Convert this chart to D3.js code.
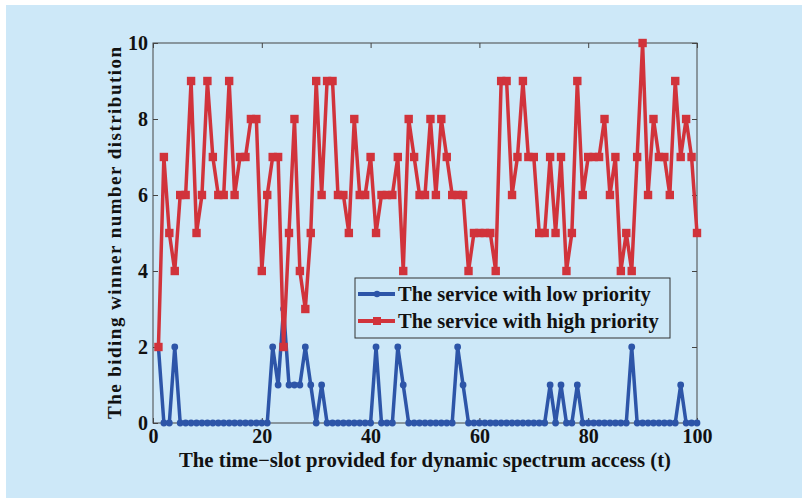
<!DOCTYPE html>
<html>
<head>
<meta charset="utf-8">
<script src="https://d3js.org/d3.v7.min.js"></script>
<style>
  body { margin: 0; background: #fff; }
  svg text { font-family: "Liberation Serif", "Times New Roman", serif; font-weight: bold; fill: #111; }
</style>
</head>
<body>
<div id="chart"></div>
<script>
var width = 802, height = 498;
var margin = { top: 43, left: 153, right: 105, bottom: 75 };

// time slots 1..100
var slots = d3.range(1, 101);

var lowPriority = [2,0,0,2,0,0,0,0,0,0, 0,0,0,0,0,0,0,0,0,0,
  0,2,1,3,1,1,1,2,1,0, 1,0,0,0,0,0,0,0,0,0,
  2,0,0,0,2,1,0,0,0,0, 0,0,0,0,0,2,1,0,0,0,
  0,0,0,0,0,0,0,0,0,0, 0,0,1,0,1,0,0,1,0,0,
  0,0,0,0,0,0,0,2,0,0, 0,0,0,0,0,0,1,0,0,0];

var highPriority = [2,7,5,4,6,6,9,5,6,9, 7,6,6,9,6,7,7,8,8,4,
  6,7,7,2,5,8,4,3,5,9, 6,9,9,6,6,5,8,6,6,7,
  5,6,6,6,7,4,8,7,6,6, 8,6,8,7,6,6,6,4,5,5,
  5,5,4,9,9,6,7,9,7,7, 5,5,7,5,7,4,5,9,6,7,
  7,7,8,6,7,4,5,4,7,10, 6,8,7,7,6,9,7,8,7,5];

var xTicks = [0, 20, 40, 60, 80, 100];
var yTicks = [0, 2, 4, 6, 8, 10];
var legendLabels = ["The service with low priority", "The service with high priority"];

var blue = "#2d55a8", red = "#d1333b";

var svg = d3.select("#chart").append("svg")
  .attr("width", width)
  .attr("height", height);

// light blue panel with a thin white edge top/left
svg.append("rect").attr("x", 6).attr("y", 5).attr("width", width - 6).attr("height", height - 5)
  .attr("fill", "#cde8f8");

var innerW = width - margin.left - margin.right,
    innerH = height - margin.top - margin.bottom;

var g = svg.append("g").attr("transform", "translate(" + margin.left + "," + margin.top + ")");

var x = d3.scaleLinear().domain([0, 100]).range([0, innerW]);
var y = d3.scaleLinear().domain([0, 10]).range([innerH, 0]);

// box
g.append("rect").attr("width", innerW).attr("height", innerH)
  .attr("fill", "none").attr("stroke", "#444").attr("stroke-width", 1);

// axes, ticks inside, mirrored
var xAxis = g.append("g").attr("transform", "translate(0," + innerH + ")")
  .call(d3.axisBottom(x).tickValues(xTicks).tickSize(-5).tickPadding(9));
var yAxis = g.append("g")
  .call(d3.axisLeft(y).tickValues(yTicks).tickSize(-5).tickPadding(5));
g.append("g").call(d3.axisTop(x).tickValues(xTicks).tickSize(-5).tickFormat(""));
g.append("g").attr("transform", "translate(" + innerW + ",0)")
  .call(d3.axisRight(y).tickValues(yTicks).tickSize(-5).tickFormat(""));

g.selectAll(".domain").remove();
g.selectAll(".tick line").attr("stroke", "#444");
xAxis.selectAll("text").attr("font-size", 20).attr("dy", "0.55em");
yAxis.selectAll("text").attr("font-size", 20);

// lines
var line = d3.line()
  .x(function(d, i) { return x(slots[i]); })
  .y(function(d) { return y(d); });

g.append("path").datum(lowPriority)
  .attr("d", line).attr("fill", "none").attr("stroke", blue).attr("stroke-width", 3.5)
  .attr("stroke-linejoin", "round");
g.selectAll(".lowpt").data(lowPriority).enter().append("circle")
  .attr("class", "lowpt")
  .attr("cx", function(d, i) { return x(slots[i]); })
  .attr("cy", function(d) { return y(d); })
  .attr("r", 3.4).attr("fill", blue);

g.append("path").datum(highPriority)
  .attr("d", line).attr("fill", "none").attr("stroke", red).attr("stroke-width", 3.5)
  .attr("stroke-linejoin", "miter");
g.selectAll(".highpt").data(highPriority).enter().append("rect")
  .attr("class", "highpt")
  .attr("x", function(d, i) { return x(slots[i]) - 4.2; })
  .attr("y", function(d) { return y(d) - 4.2; })
  .attr("width", 8.4).attr("height", 8.4).attr("fill", red);

// legend
var lg = svg.append("g").attr("transform", "translate(355,278)");
lg.append("rect").attr("width", 315).attr("height", 60)
  .attr("fill", "#cde8f8").attr("stroke", "#333").attr("stroke-width", 1);
var items = lg.selectAll(".item").data(legendLabels).enter().append("g")
  .attr("transform", function(d, i) { return "translate(0," + (16 + i * 27) + ")"; });
items.append("line").attr("x1", 3).attr("x2", 40)
  .attr("stroke", function(d, i) { return i ? red : blue; }).attr("stroke-width", 4);
items.each(function(d, i) {
  var s = d3.select(this);
  if (i) s.append("rect").attr("x", 18).attr("y", -4).attr("width", 8).attr("height", 8).attr("fill", red);
  else s.append("circle").attr("cx", 22).attr("r", 3.2).attr("fill", blue);
});
items.append("text").attr("x", 43).attr("dy", "0.35em").attr("font-size", 20.5).text(function(d) { return d; });

// axis titles
svg.append("text").attr("x", 153 + innerW / 2).attr("y", 467)
  .attr("text-anchor", "middle").attr("font-size", 20)
  .attr("textLength", 492).attr("lengthAdjust", "spacingAndGlyphs")
  .text("The time\u2212slot provided for dynamic spectrum access (t)");

svg.append("text")
  .attr("transform", "translate(121," + (margin.top + innerH / 2) + ") rotate(-90)")
  .attr("text-anchor", "middle").attr("font-size", 19)
  .attr("textLength", 372).attr("lengthAdjust", "spacing")
  .text("The biding winner number distribution");
</script>
</body>
</html>
